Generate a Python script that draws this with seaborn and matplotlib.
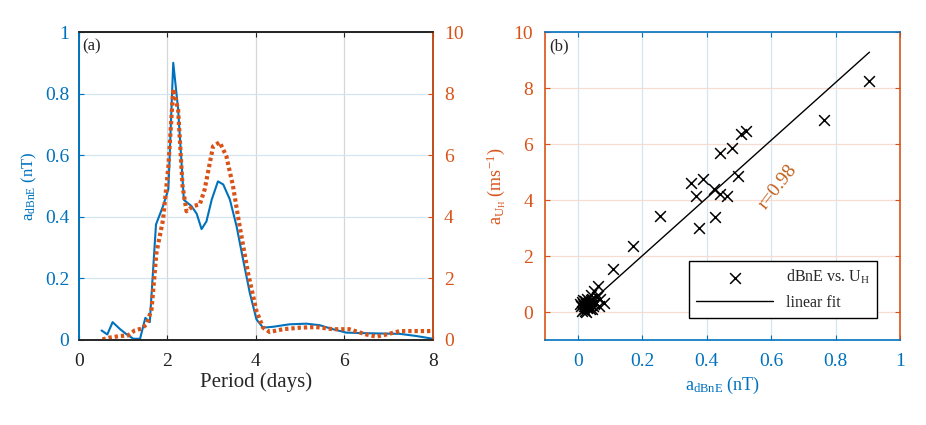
import seaborn as sns
import matplotlib.pyplot as plt
import pandas as pd
import numpy as np

# (a) amplitude spectra vs period
period_b = [0.51, 0.64, 0.76, 0.93, 1.08, 1.23, 1.38, 1.5, 1.6, 1.74, 1.9, 2.02, 2.13, 2.24,
            2.37, 2.54, 2.66, 2.77, 2.88, 3.0, 3.14, 3.26, 3.41, 3.56, 3.71, 3.86, 4.01, 4.16,
            4.39, 4.76, 5.14, 5.44, 5.74, 6.04, 6.49, 7.25, 7.62, 8.0]
amp_dbne = [0.031, 0.018, 0.058, 0.035, 0.018, 0.004, 0.004, 0.072, 0.058, 0.375, 0.435, 0.49,
            0.90, 0.75, 0.455, 0.435, 0.41, 0.36, 0.385, 0.456, 0.515, 0.505, 0.456, 0.37, 0.26,
            0.153, 0.067, 0.04, 0.043, 0.051, 0.053, 0.048, 0.035, 0.024, 0.022, 0.02, 0.013, 0.004]

period_u = [0.53, 0.7, 0.93, 1.11, 1.26, 1.41, 1.53, 1.64, 1.75, 1.9, 2.02, 2.13, 2.24, 2.34,
            2.43, 2.58, 2.73, 2.84, 3.03, 3.18, 3.33, 3.48, 3.63, 3.82, 4.01, 4.16, 4.31, 4.61,
            4.99, 5.36, 5.74, 6.11, 6.49, 6.72, 6.95, 7.25, 7.62, 8.0]
amp_uh = [0.02, 0.08, 0.13, 0.15, 0.31, 0.37, 0.51, 1.0, 2.83, 3.91, 5.64, 8.15, 7.48, 5.0,
          4.18, 4.35, 4.4, 4.89, 6.29, 6.42, 5.97, 5.0, 3.7, 2.18, 0.94, 0.4, 0.26, 0.35,
          0.4, 0.42, 0.35, 0.35, 0.18, 0.11, 0.18, 0.29, 0.29, 0.29]

# (b) scatter of amplitudes
sc_dbne = [0.905, 0.763, 0.522, 0.507, 0.478, 0.44, 0.496, 0.388, 0.35, 0.367, 0.424, 0.44,
           0.462, 0.427, 0.377, 0.256, 0.173, 0.109, 0.062, 0.05, 0.083,
           0.01, 0.015, 0.02, 0.025, 0.03, 0.035, 0.04, 0.045, 0.012, 0.018, 0.022, 0.028,
           0.033, 0.038, 0.042, 0.048, 0.055, 0.06, 0.016, 0.024, 0.03, 0.036, 0.044, 0.052,
           0.008, 0.02, 0.027, 0.034, 0.041, 0.065, 0.07]
sc_uh = [8.24, 6.86, 6.47, 6.35, 5.85, 5.67, 4.86, 4.74, 4.59, 4.15, 4.39, 4.21,
         4.15, 3.38, 2.99, 3.44, 2.37, 1.52, 0.93, 0.75, 0.32,
         0.2, 0.35, 0.1, 0.3, 0.15, 0.4, 0.25, 0.45, 0.05, 0.28, 0.38, 0.18,
         0.32, 0.12, 0.42, 0.22, 0.35, 0.55, 0.42, 0.05, 0.48, 0.2, 0.1, 0.3,
         0.3, 0.22, 0.0, 0.35, 0.6, 0.2, 0.45]
fit_slope, fit_intercept = 10.32, -0.06
r_text = 'r=0.98'

blue = '#0072BD'
orange = '#D95319'

sns.set_style('ticks')
plt.rcParams['font.family'] = ['Liberation Serif', 'DejaVu Serif']
plt.rcParams['mathtext.fontset'] = 'custom'
plt.rcParams['mathtext.rm'] = 'Liberation Serif'
plt.rcParams['mathtext.it'] = 'Liberation Serif:italic'
plt.rcParams['xtick.direction'] = 'in'
plt.rcParams['ytick.direction'] = 'in'

fig = plt.figure(figsize=(9.26, 4.25), dpi=100)
ax1 = fig.add_axes([0.0853, 0.2, 0.3823, 0.7247])
ax2 = ax1.twinx()

sns.lineplot(x=period_b, y=amp_dbne, ax=ax1, color=blue, lw=1.5, sort=False)
sns.lineplot(x=period_u, y=amp_uh, ax=ax2, color=orange, lw=3, sort=False,
             linestyle=(0, (0.8, 0.7)))
ax1.set_xlim(0, 8)
ax1.set_ylim(0, 1)
ax2.set_ylim(0, 10)
ax1.set_xticks([0, 2, 4, 6, 8])
ax1.set_yticks([0, 0.2, 0.4, 0.6, 0.8, 1])
ax1.set_yticklabels(['0', '0.2', '0.4', '0.6', '0.8', '1'])
ax2.set_yticks([0, 2, 4, 6, 8, 10])
ax1.xaxis.grid(True, color='#d6d6d6', lw=0.9)
ax1.yaxis.grid(True, color='#d3e5f3', lw=0.9)
ax1.tick_params(axis='x', labelsize=14, colors='#222222', top=True, pad=9)
ax1.tick_params(axis='y', labelsize=14, colors=blue, pad=7)
ax2.tick_params(axis='y', labelsize=14, colors=orange, pad=8)
ax1.set_xlabel('Period (days)', fontsize=15, labelpad=2)
ax1.set_ylabel(r'a$_{\mathrm{dBnE}}$ (nT)', fontsize=12, color=blue, labelpad=4)
ax1.spines['left'].set_color(blue)
ax2.spines['left'].set_color(blue)
ax2.spines['right'].set_color(orange)
for ax in (ax1, ax2):
    ax.spines['top'].set_color('#222222')
ax1.text(0.01, 0.98, '(a)', transform=ax1.transAxes, fontsize=12, va='top', ha='left')

# (b)
ax3 = fig.add_axes([0.589, 0.2, 0.383, 0.7247])
df = pd.DataFrame({'dbne': sc_dbne, 'uh': sc_uh})
sns.scatterplot(data=df, x='dbne', y='uh', ax=ax3, marker='x', color='black', s=60,
                linewidth=1.1, label=r'dBnE vs. U$_\mathrm{H}$', zorder=3)
fx = np.array([min(sc_dbne), max(sc_dbne)])
sns.lineplot(x=fx, y=fit_slope * fx + fit_intercept, ax=ax3, color='black', lw=1,
             label='linear fit')
ax3.set_xlim(-0.1, 1)
ax3.set_ylim(-1, 10)
ax3.set_xticks([0, 0.2, 0.4, 0.6, 0.8, 1])
ax3.set_xticklabels(['0', '0.2', '0.4', '0.6', '0.8', '1'])
ax3.set_yticks([0, 2, 4, 6, 8, 10])
ax3.xaxis.grid(True, color='#d3e5f3', lw=0.9)
ax3.yaxis.grid(True, color='#f8dcd2', lw=0.9)
ax3.tick_params(axis='x', labelsize=14, colors=blue, top=True, pad=9)
ax3.tick_params(axis='y', labelsize=14, colors=orange, right=True, pad=9)
ax3.spines['left'].set_color(orange)
ax3.spines['right'].set_color(orange)
ax3.spines['bottom'].set_color(blue)
ax3.spines['top'].set_color(blue)
for s in ax3.spines.values():
    s.set_linewidth(1.2)
ax3.set_xlabel(r'a$_{\mathrm{dBnE}}$ (nT)', fontsize=13, color=blue, labelpad=4)
ax3.set_ylabel(r'a$_{\mathrm{U_H}}$ (ms$^{-1}$)', fontsize=13, color=orange)
ax3.text(0.01, 0.98, '(b)', transform=ax3.transAxes, fontsize=12, va='top', ha='left')
ax3.text(0.62, 4.46, r_text, fontsize=14, rotation=52, color='#C0601A',
         ha='center', va='center')
leg = ax3.legend(loc='lower right', bbox_to_anchor=(0.935, 0.071), fontsize=11.5,
                 frameon=True, fancybox=False, edgecolor='black', framealpha=1,
                 handlelength=4.8, borderpad=0.45, labelspacing=0.55, borderaxespad=0)
leg.get_frame().set_linewidth(1)

for s in ('left', 'bottom', 'top', 'right'):
    ax1.spines[s].set_linewidth(1.2)
    ax2.spines[s].set_linewidth(1.2)

fig.savefig('out.png', dpi=100)
